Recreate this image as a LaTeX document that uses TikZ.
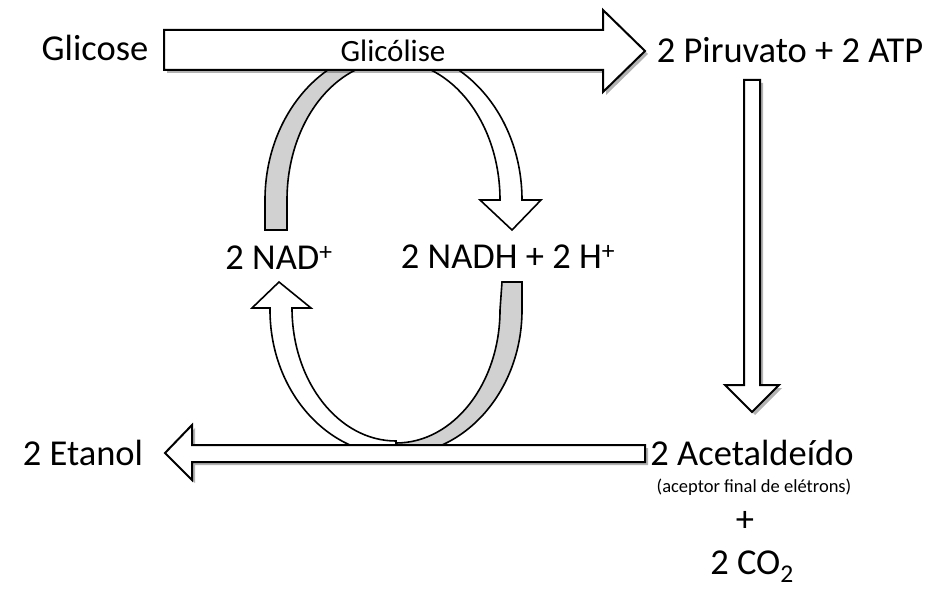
\documentclass[tikz,border=0pt]{standalone}
\usepackage{fontspec}
\setmainfont{Carlito}
\usetikzlibrary{shadows}
\begin{document}
\begin{tikzpicture}[x=1pt,y=-1pt,
  bigarrow/.style={draw=black,line width=2pt,fill=white,line join=miter,
     drop shadow={shadow xshift=3pt,shadow yshift=-3pt,opacity=0.3,fill=black}},
  loopw/.style={draw=black,line width=1.6pt,fill=white},
  loopg/.style={draw=black,line width=1.6pt,fill=black!18},
  lbl/.style={inner sep=0pt,font=\fontsize{36.5}{40}\selectfont},
  small/.style={inner sep=0pt,font=\fontsize{18.5}{20}\selectfont}]
\useasboundingbox (0,0) rectangle (949,609);
% upper loop: centre (393,200)
\path[loopg] (265,230) -- (265,200) arc[start angle=180,end angle=270,x radius=128,y radius=151]
  -- (393,61) arc[start angle=270,end angle=180,x radius=106,y radius=139] -- (287,230) -- cycle;
\path[loopw] (393,49) arc[start angle=270,end angle=360,x radius=129,y radius=151]
  -- (541,200) -- (512,230) -- (480,200) -- (500,200)
  arc[start angle=0,end angle=-90,x radius=107,y radius=139] -- cycle;
% lower loop: centre (396,310)
\path[loopg] (522,282) -- (522,310) arc[start angle=0,end angle=90,x radius=126,y radius=145]
  -- (396,443) arc[start angle=90,end angle=0,x radius=104,y radius=133] -- (502,282) -- cycle;
\path[loopw] (396,455) arc[start angle=90,end angle=180,x radius=126,y radius=145]
  -- (270,308) -- (252,308) -- (279,282) -- (311,308) -- (292,308)
  arc[start angle=180,end angle=90,x radius=104,y radius=133] -- cycle;
% big arrows
\path[bigarrow] (164,30) -- (603,30) -- (603,10) -- (645,51) -- (603,92) -- (603,70) -- (164,70) -- cycle;
\path[bigarrow] (744,80) -- (760,80) -- (760,385) -- (779,385) -- (752,412) -- (725,385) -- (744,385) -- cycle;
\path[bigarrow] (645,445) -- (645,462) -- (192,462) -- (192,480) -- (165,453) -- (192,425) -- (192,445) -- cycle;
% texts
\node[lbl] (glc) at (95,48) {Glicose};
\node[inner sep=0pt,font=\fontsize{31}{34}\selectfont] (gli) at (393,51) {Glicólise};
\node[lbl] (pir) at (790,50) {2 Piruvato + 2 ATP};
\node[lbl] (nad) at (279,258) {2 NAD\textsuperscript{+}};
\node[lbl] (nadh) at (508,257) {2 NADH + 2 H\textsuperscript{+}};
\node[lbl] (eta) at (83,453) {2 Etanol};
\node[lbl] (ace) at (752,453) {2 Acetaldeído};
\node[small] (acp) at (754,487) {(aceptor final de elétrons)};
\node[lbl] (plus) at (745,521) {+};
\node[lbl] (co2) at (752,567) {2 CO\textsubscript{2}};
\end{tikzpicture}
\end{document}
